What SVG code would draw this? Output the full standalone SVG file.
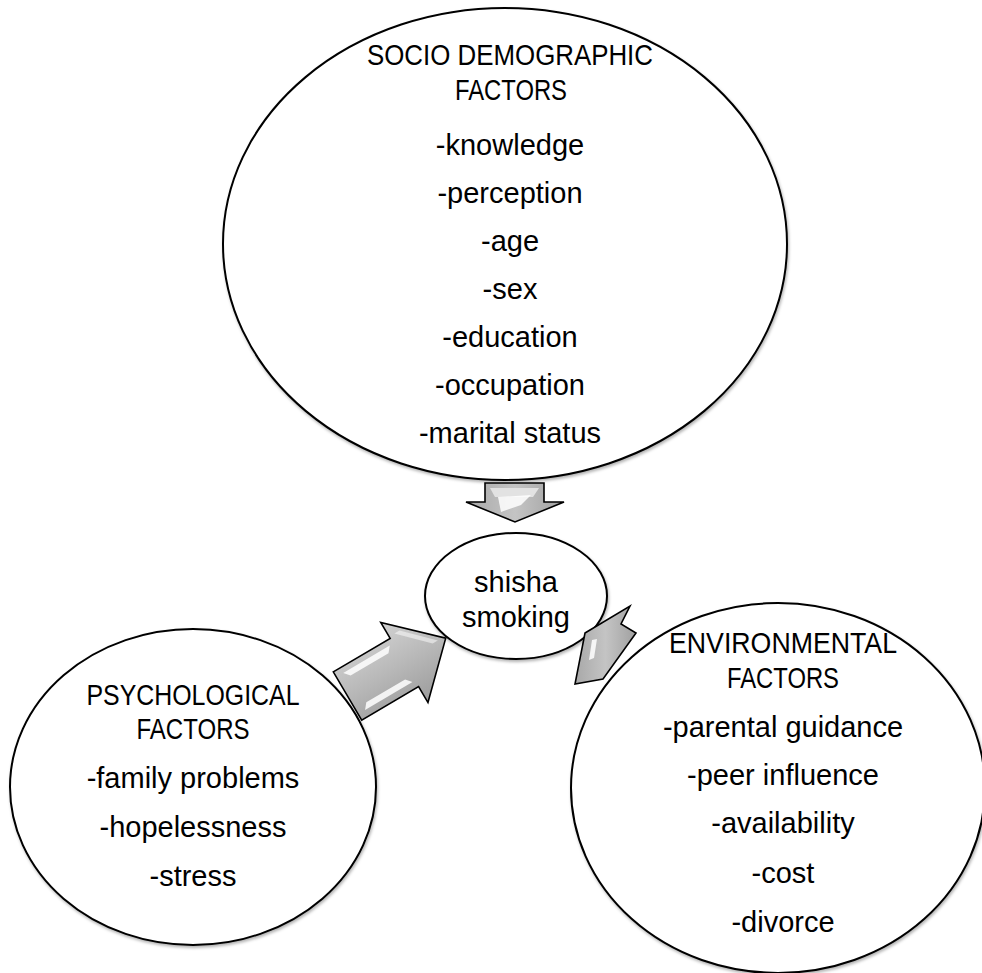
<svg xmlns="http://www.w3.org/2000/svg" width="982" height="973" viewBox="0 0 982 973">
  <defs>
    <filter id="shadow" x="-5%" y="-5%" width="110%" height="112%">
      <feDropShadow dx="1" dy="2" stdDeviation="1.5" flood-color="#000" flood-opacity="0.3"/>
    </filter>
    <linearGradient id="arrowFill" x1="0" y1="0" x2="0" y2="1">
      <stop offset="0" stop-color="#d2d2d2"/>
      <stop offset="0.5" stop-color="#b8b8b8"/>
      <stop offset="1" stop-color="#9c9c9c"/>
    </linearGradient>
    <linearGradient id="arrowFillH" x1="0" y1="0" x2="1" y2="0">
      <stop offset="0" stop-color="#a8a8a8"/>
      <stop offset="0.5" stop-color="#c4c4c4"/>
      <stop offset="1" stop-color="#a0a0a0"/>
    </linearGradient>
  </defs>
  <style>
    .node { fill: #ffffff; stroke: #000000; stroke-width: 2; filter: url(#shadow); }
    .t { font-family: "Liberation Sans", Arial, sans-serif; font-size: 29px; fill: #000000; text-anchor: middle; }
    .arrow { stroke: #000000; stroke-width: 1.6; stroke-linejoin: miter; }
    .hl { fill: #ffffff; opacity: 0.85; }
  </style>
  <rect width="982" height="973" fill="#ffffff"/>

  <g id="socio-demographic">
    <ellipse class="node" cx="505" cy="244" rx="282" ry="236"/>
    <text class="t" x="510" y="65" textLength="286" lengthAdjust="spacingAndGlyphs">SOCIO DEMOGRAPHIC</text>
    <text class="t" x="511" y="100" textLength="112" lengthAdjust="spacingAndGlyphs">FACTORS</text>
    <text class="t" x="510" y="155">-knowledge</text>
    <text class="t" x="510" y="203">-perception</text>
    <text class="t" x="510" y="251">-age</text>
    <text class="t" x="510" y="299">-sex</text>
    <text class="t" x="510" y="347">-education</text>
    <text class="t" x="510" y="395">-occupation</text>
    <text class="t" x="510" y="443">-marital status</text>
  </g>

  <g id="psychological">
    <ellipse class="node" cx="193" cy="787" rx="183" ry="158"/>
    <text class="t" x="193" y="705" textLength="213" lengthAdjust="spacingAndGlyphs">PSYCHOLOGICAL</text>
    <text class="t" x="193" y="739" textLength="113" lengthAdjust="spacingAndGlyphs">FACTORS</text>
    <text class="t" x="193" y="788">-family problems</text>
    <text class="t" x="193" y="837">-hopelessness</text>
    <text class="t" x="193" y="886">-stress</text>
  </g>

  <g id="environmental">
    <ellipse class="node" cx="778" cy="788" rx="207" ry="185"/>
    <text class="t" x="783" y="653" textLength="228" lengthAdjust="spacingAndGlyphs">ENVIRONMENTAL</text>
    <text class="t" x="783" y="688" textLength="112" lengthAdjust="spacingAndGlyphs">FACTORS</text>
    <text class="t" x="783" y="737">-parental guidance</text>
    <text class="t" x="783" y="785">-peer influence</text>
    <text class="t" x="783" y="833">-availability</text>
    <text class="t" x="783" y="883">-cost</text>
    <text class="t" x="783" y="932">-divorce</text>
  </g>

  <g id="shisha-smoking">
    <ellipse class="node" cx="516" cy="596" rx="91" ry="63"/>
    <text class="t" x="516" y="592">shisha</text>
    <text class="t" x="516" y="627">smoking</text>
  </g>

  <g id="connectors">
    <g id="arrow-socio">
      <polygon class="arrow" fill="url(#arrowFillH)" points="485,483 544,483 544,502 564,502 515,522 466,502 485,502"/>
      <polygon fill="#e2e2e2" points="490,488 539,488 533,497 495,497"/>
      <polygon class="hl" points="498,497 531,495 521,505 501,512"/>
    </g>
    <g id="arrow-psych" transform="translate(347.5,696) rotate(-30.5)">
      <polygon class="arrow" fill="url(#arrowFill)" points="0,-28 66,-28 66,-46.5 114,0 66,46.5 66,28 0,28"/>
      <polygon class="hl" points="8,-22 62,-22 57,-16 13,-16"/>
      <polygon class="hl" points="13,15 58,15 63,21 8,21"/>
      <polygon fill="#ffffff" opacity="0.5" points="72,-30 78,-30 106,-2 100,-2"/>
    </g>
    <g id="arrow-env">
      <polygon class="arrow" fill="url(#arrowFillH)" points="585,633 630,606 621,624 636,633 603,679 575,684"/>
      <polygon class="hl" points="592,640 597,639 594,658 589,660"/>
    </g>
  </g>
</svg>
